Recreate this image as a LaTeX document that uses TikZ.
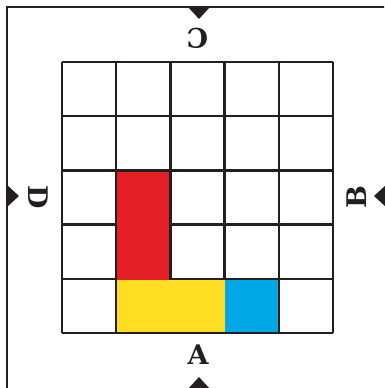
\documentclass[tikz,border=0pt]{standalone}
\usepackage{fontspec}
\newfontfamily\slab{DejaVu Serif}
\definecolor{cred}{HTML}{E31E24}
\definecolor{cyel}{HTML}{FFDD22}
\definecolor{cblu}{HTML}{00A8E6}
\definecolor{ink}{HTML}{231F20}
\begin{document}
\begin{tikzpicture}[x=1pt,y=-1pt,
  gridline/.style={draw=ink,line width=2.4pt},
  tri/.style={fill=ink,draw=none},
  lab/.style={font=\slab\bfseries\fontsize{27}{27}\selectfont,text=ink,inner sep=0pt}]
\useasboundingbox (0,0) rectangle (384,388);
\begin{scope}
\clip (0,0) rectangle (384,388);
\draw[ink,line width=2pt] (7,7) rectangle (389,391);
\end{scope}
% grid
\foreach \i in {0,...,5}{
  \draw[gridline] ({62+54.2*\i},62) -- ({62+54.2*\i},333);
  \draw[gridline] (62,{62+54.2*\i}) -- (333,{62+54.2*\i});
}
% colored blocks (over the inner grid lines)
\fill[cred] (117.4,171.6) rectangle (169.2,280);
\fill[cyel] (117.4,280) rectangle (224.6,331.8);
\fill[cblu] (224.6,280) rectangle (277.6,331.8);
% triangles
\fill[tri] (188,7) -- (210,7) -- (199,19) -- cycle;
\fill[tri] (7,185) -- (7,207) -- (19,196) -- cycle;
\fill[tri] (386,185) -- (386,207) -- (374,196) -- cycle;
\fill[tri] (188,389) -- (210,389) -- (199,377) -- cycle;
% labels
\node[lab] (A) at (198,354.5) {A};
\node[lab,rotate=180] (C) at (197.5,38.5) {C};
\node[lab,rotate=-90] (D) at (38,197) {D};
\node[lab,rotate=90] (B) at (357,197) {B};
\end{tikzpicture}
\end{document}
